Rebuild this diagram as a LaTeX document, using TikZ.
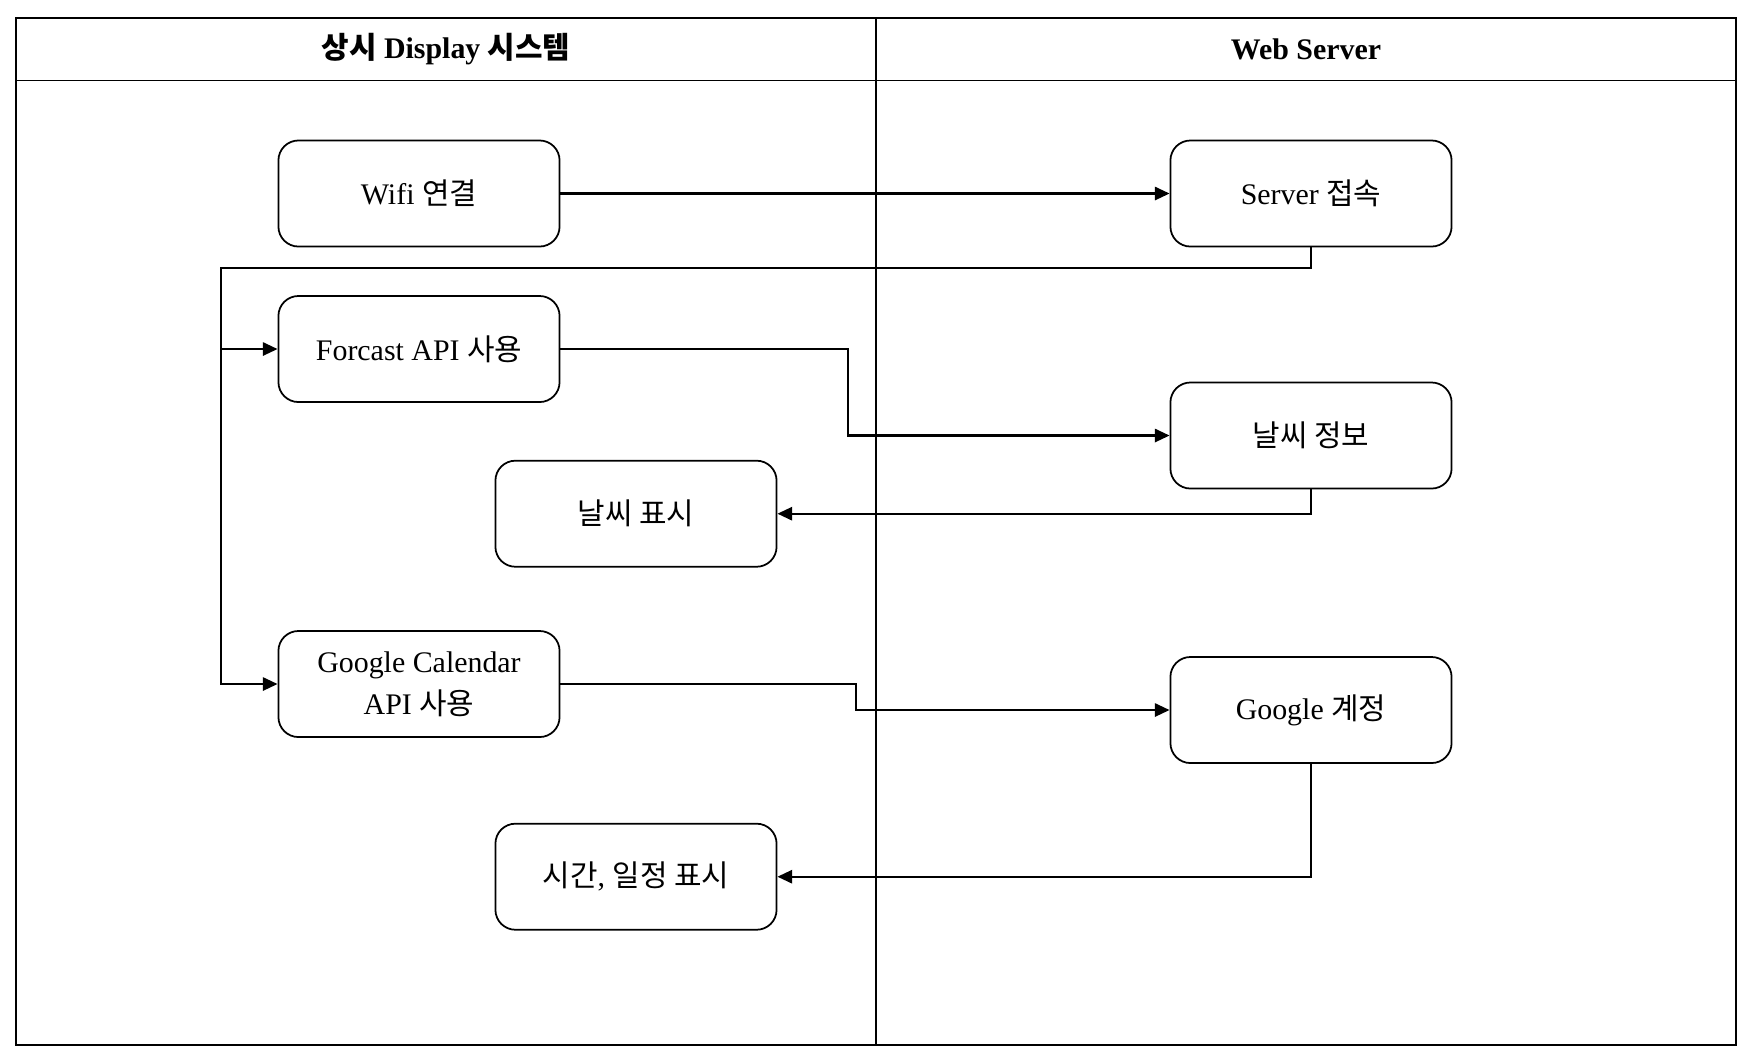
\documentclass[tikz,border=0pt]{standalone}
\usepackage{fontspec}
\setmainfont{Liberation Serif}
\newfontfamily\krfont{Noto Sans CJK KR}
\usetikzlibrary{arrows.meta}

\begin{document}
\begin{tikzpicture}[x=0.01cm, y=-0.01cm,
        lane/.style={line width=0.5pt},
        box/.style={draw, line width=0.5pt, rounded corners=0.2cm, minimum width=2.81cm,
                    minimum height=1.06cm, align=center, font=\fontsize{8.5}{12}\selectfont},
        lanetitle/.style={font=\fontsize{8.5}{10}\selectfont\bfseries},
        flow/.style={line width=0.6pt, -{Triangle[length=4.2pt, width=3.8pt]}}
    ]
    \useasboundingbox (0,0) rectangle (1754,1062);

    % Corsie
    \draw[lane] (15.7,18) rectangle (1736,1045);
    \draw[lane] (15.7,80.5) -- (1736,80.5);
    \draw[lane] (876,18) -- (876,1045);
    \node[lanetitle] (displaylane) at (446,49) {{\krfont 상시} Display {\krfont 시스템}};
    \node[lanetitle] (serverlane) at (1306,49) {Web Server};

    % Blocchi
    \node[box] (wifi) at (419,193.5) {Wifi {\krfont 연결}};
    \node[box] (server) at (1311,193.5) {Server {\krfont 접속}};
    \node[box] (forcast) at (419,349) {Forcast API {\krfont 사용}};
    \node[box] (weatherinfo) at (1311,435.5) {\krfont 날씨 정보};
    \node[box] (weathershow) at (636,513.7) {\krfont 날씨 표시};
    \node[box] (gcal) at (419,684) {Google Calendar\\API {\krfont 사용}};
    \node[box] (gaccount) at (1311,710) {Google {\krfont 계정}};
    \node[box] (timeshow) at (636,876.7) {{\krfont 시간}, {\krfont 일정 표시}};

    % Punti di piega
    \coordinate (bus) at (221,267.7);
    \coordinate (fbend) at (848,0);
    \coordinate (gbend) at (856,0);

    % Frecce
    \draw[flow] (wifi.east) -- (server.west);
    \draw[flow] (server.south) |- (bus) |- (gcal.west);
    \draw[flow] (bus |- forcast.west) -- (forcast.west);
    \draw[flow] (forcast.east) -- (forcast.east -| fbend) |- (weatherinfo.west);
    \draw[flow] (weatherinfo.south) |- (weathershow.east);
    \draw[flow] (gcal.east) -- (gcal.east -| gbend) |- (gaccount.west);
    \draw[flow] (gaccount.south) |- (timeshow.east);
\end{tikzpicture}
\end{document}
